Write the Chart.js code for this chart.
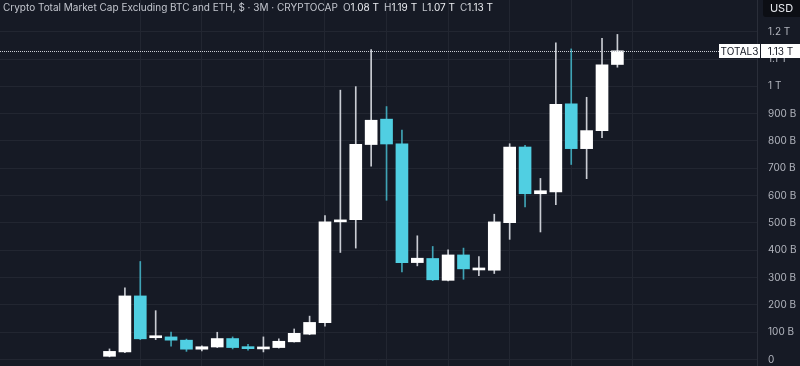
<!DOCTYPE html>
<html>
<head>
<meta charset="utf-8">
<script src="https://cdn.jsdelivr.net/npm/chart.js@4.4.1/dist/chart.umd.min.js"></script>
<style>
  body { margin: 0; background: #161a25; overflow: hidden; }
  #wrap { position: relative; width: 800px; height: 366px; }
  #header {
    position: absolute; left: 3px; top: 1px; white-space: nowrap;
    font: 10px Inter, sans-serif; line-height: 12px; color: #c3c6ce;
  }
  #header .ohlc { margin-left: 5px; }
  #header .ohlc b { font-weight: 400; color: #eceef2; margin-right: 5px; }
  #usd {
    position: absolute; left: 763px; top: 0; width: 37px; height: 17px;
    background: #0c0e14; border-bottom-left-radius: 3px;
    font: 11px Inter, sans-serif; color: #e6e8ee; line-height: 17px; text-align: center;
  }
  .tag {
    position: absolute; height: 14px; background: #fff; color: #131722;
    font: 10px Inter, sans-serif; line-height: 14px; text-align: center;
  }
</style>
</head>
<body>
<div id="wrap">
  <canvas id="chart"></canvas>
  <div id="header">Crypto Total Market Cap Excluding BTC and ETH, $ · 3M · CRYPTOCAP<span class="ohlc">O<b>1.08 T</b>H<b>1.19 T</b>L<b>1.07 T</b>C<b>1.13 T</b></span></div>
  <div id="usd">USD</div>
  <div class="tag" id="tagName" style="left:719px;width:41px;">TOTAL3</div>
  <div class="tag" id="tagValue" style="left:761px;width:39px;">1.13 T</div>
</div>
<script>
//! Data (billions USD, quarterly candles)

const quarters = [
  "2017 Q3", "2017 Q4", "2018 Q1", "2018 Q2", "2018 Q3", "2018 Q4",
  "2019 Q1", "2019 Q2", "2019 Q3", "2019 Q4", "2020 Q1", "2020 Q2",
  "2020 Q3", "2020 Q4", "2021 Q1", "2021 Q2", "2021 Q3", "2021 Q4",
  "2022 Q1", "2022 Q2", "2022 Q3", "2022 Q4", "2023 Q1", "2023 Q2",
  "2023 Q3", "2023 Q4", "2024 Q1", "2024 Q2", "2024 Q3", "2024 Q4",
  "2025 Q1", "2025 Q2", "2025 Q3", "2025 Q4",
];
const opens = [12, 28, 233, 80, 83, 71, 38, 46, 77, 46, 39, 44, 65, 93, 135, 504, 512, 787,
  880, 790, 355, 370, 290, 383, 328, 327, 501, 778, 607, 614, 936, 772, 838, 1080];
const highs = [39, 263, 359, 179, 101, 75, 50, 100, 83, 56, 83, 76, 112, 159, 527, 986, 999, 1135,
  926, 840, 453, 414, 402, 408, 377, 532, 790, 784, 663, 1159, 1137, 960, 1176, 1190];
const lows = [10, 25, 73, 73, 49, 30, 32, 44, 39, 34, 28, 42, 64, 91, 122, 392, 408, 708,
  583, 321, 343, 289, 288, 294, 307, 315, 440, 559, 467, 567, 714, 662, 812, 1070];
const closes = [30, 233, 76, 84, 71, 38, 47, 77, 44, 40, 45, 67, 96, 136, 504, 511, 788, 876,
  789, 355, 371, 292, 383, 332, 333, 504, 778, 607, 618, 934, 772, 838, 1079, 1130];

const yTicks = [0, 100, 200, 300, 400, 500, 600, 700, 800, 900, 1000, 1100, 1200];
const yTickLabels = ["0", "100 B", "200 B", "300 B", "400 B", "500 B", "600 B", "700 B",
  "800 B", "900 B", "1 T", "1.1 T", "1.2 T"];
const yearStarts = [2, 6, 10, 14, 18, 22, 26, 30, 34];
const lastPrice = 1130;

const UP = "#ffffff";
const DOWN = "#50cfe2";
const UP_WICK = "#c9ccd3";
const DOWN_WICK = "#3fa3b5";

//! Chart

const isUp = quarters.map((q, i) => closes[i] >= opens[i]);

const priceLine = {
  id: "priceLine",
  afterDatasetsDraw(chart) {
    const { ctx, chartArea, scales } = chart;
    const y = Math.round(scales.y.getPixelForValue(lastPrice)) + 0.5;
    ctx.save();
    ctx.strokeStyle = "#c9ccd3";
    ctx.lineWidth = 1;
    ctx.setLineDash([1, 1]);
    ctx.beginPath();
    ctx.moveTo(chartArea.left, y);
    ctx.lineTo(719, y);
    ctx.stroke();
    ctx.restore();
    const top = Math.round(y - 7.5) + "px";
    document.getElementById("tagName").style.top = top;
    document.getElementById("tagValue").style.top = top;
  },
};

new Chart(document.getElementById("chart"), {
  type: "bar",
  data: {
    labels: quarters,
    datasets: [
      {
        label: "body",
        data: quarters.map((q, i) => ({ x: i, y: [opens[i], closes[i]] })),
        backgroundColor: isUp.map((u) => (u ? UP : DOWN)),
        barThickness: 12,
        minBarLength: 2,
        grouped: false,
        borderWidth: 0,
      },
      {
        label: "wick",
        data: quarters.map((q, i) => ({ x: i, y: [lows[i], highs[i]] })),
        backgroundColor: isUp.map((u) => (u ? UP_WICK : DOWN_WICK)),
        barThickness: 1,
        grouped: false,
        borderWidth: 0,
      },
    ],
  },
  options: {
    responsive: true,
    maintainAspectRatio: false,
    animation: false,
    layout: { padding: 0 },
    plugins: { legend: { display: false }, tooltip: { enabled: false } },
    scales: {
      x: {
        type: "linear",
        min: -7.115,
        max: 42.07,
        offset: false,
        afterBuildTicks: (scale) => {
          scale.ticks = yearStarts.map((v) => ({ value: v }));
        },
        afterFit: (scale) => {
          scale.height = 0;
          scale.paddingLeft = 0;
          scale.paddingRight = 0;
        },
        ticks: { display: false, padding: 0 },
        grid: { color: "#222631", drawTicks: false, offset: false },
        border: { display: false },
      },
      y: {
        position: "right",
        min: -23.5,
        max: 1316,
        afterBuildTicks: (scale) => {
          scale.ticks = yTicks.map((v) => ({ value: v }));
        },
        afterFit: (scale) => {
          scale.width = 43;
          scale.paddingTop = 0;
          scale.paddingBottom = 0;
        },
        ticks: {
          padding: 11,
          color: "#b2b5be",
          font: { family: "Inter", size: 10 },
          callback: (v) => yTickLabels[yTicks.indexOf(v)],
        },
        grid: { color: "#222631", drawTicks: false },
        border: { display: true, color: "#2a2e39" },
      },
    },
  },
  plugins: [priceLine],
});
</script>
</body>
</html>
